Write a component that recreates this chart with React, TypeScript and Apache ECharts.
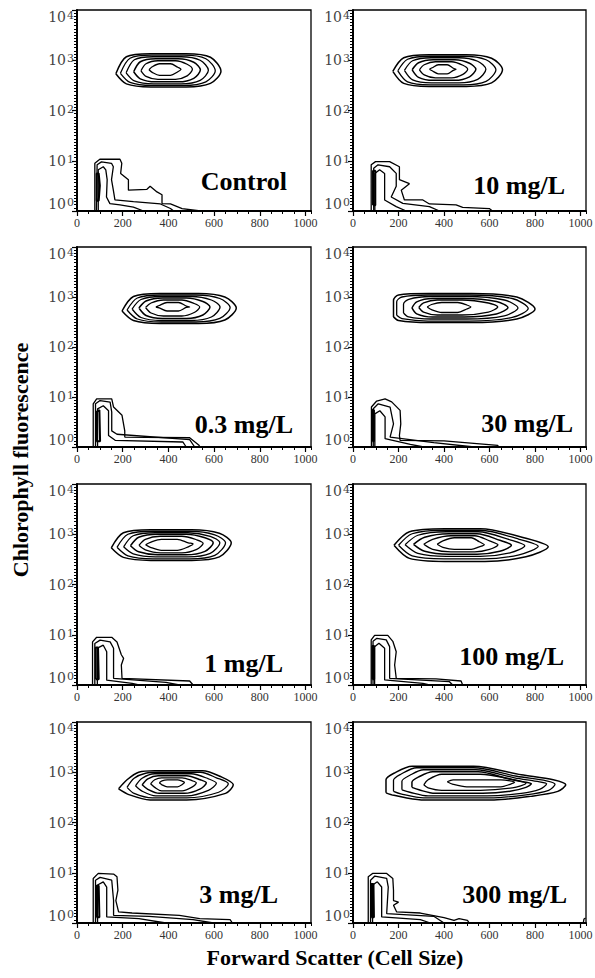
import React, { useEffect, useRef } from "react";
import * as echarts from "echarts";

// ---------- data (x: forward scatter channel, y: chlorophyll fluorescence) ----------
const panelNames = ["Control", "10 mg/L", "0.3 mg/L", "30 mg/L", "1 mg/L", "100 mg/L", "3 mg/L", "300 mg/L"];
const xTickValues = [0, 200, 400, 600, 800, 1000];
const yDecades = [1, 10, 100, 1000, 10000];
const yExponents = ["0", "1", "2", "3", "4"];

const controlRings = [
  [[170, 537], [216, 1175], [322, 1349], [478, 1349], [584, 1148], [630, 603], [584, 347], [478, 295], [322, 295], [216, 339]],
  [[190, 550], [232, 1096], [327, 1259], [468, 1259], [564, 1072], [605, 617], [564, 372], [468, 316], [327, 316], [232, 363]],
  [[215, 562], [251, 1023], [334, 1175], [456, 1175], [539, 1000], [575, 631], [539, 398], [456, 339], [334, 339], [251, 389]],
  [[248, 589], [277, 933], [344, 1072], [444, 1072], [511, 912], [540, 646], [511, 437], [444, 372], [344, 372], [277, 427]],
  [[280, 617], [302, 851], [354, 977], [431, 977], [482, 832], [505, 661], [482, 490], [431, 417], [354, 417], [302, 479]],
  [[315, 646], [329, 741], [361, 851], [409, 851], [441, 724], [455, 661], [441, 589], [409, 501], [361, 501], [329, 575]],
];
const controlLow = [
  [[78, 1], [78, 8.9], [100, 10.7], [188, 10.7], [196, 8.9], [191, 5.6], [225, 4.2], [225, 2.6], [306, 2.7], [320, 3.1], [350, 2.4], [372, 2.1], [372, 1.4], [409, 1.38], [460, 1.12], [541, 1]],
  [[85, 1], [88, 8.3], [107, 9.5], [151, 8.9], [159, 7.6], [151, 4.2], [159, 2.6], [166, 1.66], [247, 1.53], [365, 1.38], [409, 1.12], [423, 1]],
  [[93, 1], [93, 6.6], [115, 7.6], [126, 6.6], [132, 4.2], [129, 1.9], [144, 1.4], [188, 1.32], [247, 1.2], [291, 1]],
  [[86, 1.6], [86, 5.6], [95, 5.6], [100, 3.2], [95, 1.6], [86, 1.6]],
];

const mg10Rings = [
  [[175, 603], [223, 1122], [334, 1288], [498, 1288], [609, 1096], [657, 646], [609, 355], [498, 302], [334, 302], [223, 347]],
  [[197, 617], [240, 1047], [339, 1202], [486, 1202], [585, 1023], [628, 646], [585, 380], [486, 324], [339, 324], [240, 372]],
  [[226, 631], [262, 977], [344, 1122], [466, 1122], [548, 955], [584, 661], [548, 417], [466, 355], [344, 355], [262, 407]],
  [[260, 646], [288, 891], [352, 1023], [448, 1023], [512, 871], [540, 661], [512, 468], [448, 398], [352, 398], [288, 457]],
  [[292, 646], [313, 813], [362, 933], [434, 933], [483, 794], [504, 661], [483, 525], [434, 447], [362, 447], [313, 513]],
  [[336, 661], [348, 708], [375, 813], [414, 813], [441, 692], [453, 661], [441, 631], [414, 537], [375, 537], [348, 617]],
];
const mg10Low = [
  [[80, 1], [80, 8.3], [99, 9.6], [161, 9.6], [204, 7.6], [204, 4.2], [248, 3.5], [212, 2.6], [226, 1.66], [307, 1.66], [336, 1.38], [453, 1.32], [482, 1.18], [599, 1.12], [613, 1]],
  [[91, 1], [91, 7.1], [110, 8.3], [161, 7.6], [190, 5.6], [190, 3.1], [168, 1.9], [219, 1.42], [336, 1.22], [380, 1]],
  [[96, 1], [96, 5.6], [117, 6.6], [139, 5.6], [139, 1.66], [190, 1.22], [234, 1]],
  [[88, 1.3], [88, 6.3], [98, 6.3], [98, 1.3], [88, 1.3]],
];

const mg03Rings = [
  [[197, 525], [247, 1023], [362, 1175], [532, 1175], [647, 1000], [697, 603], [647, 347], [532, 295], [362, 295], [247, 339]],
  [[219, 550], [264, 955], [368, 1096], [521, 1096], [625, 933], [670, 617], [625, 372], [521, 316], [368, 316], [264, 363]],
  [[241, 575], [280, 891], [368, 1023], [499, 1023], [588, 871], [626, 631], [588, 398], [499, 339], [368, 339], [280, 389]],
  [[271, 603], [302, 832], [374, 955], [479, 955], [551, 813], [582, 631], [551, 437], [479, 372], [374, 372], [302, 427]],
  [[300, 617], [324, 759], [378, 871], [459, 871], [513, 741], [537, 631], [513, 490], [459, 417], [378, 417], [324, 479]],
  [[345, 631], [360, 676], [394, 776], [444, 776], [478, 661], [493, 631], [478, 617], [444, 525], [394, 525], [360, 603]],
];
const mg03Low = [
  [[71, 1], [71, 7.3], [86, 9.2], [152, 9.2], [160, 6.3], [197, 4.3], [209, 2.1], [209, 1.58], [493, 1.53], [534, 1.08], [537, 1]],
  [[81, 1], [81, 7.3], [101, 8.5], [145, 7.9], [152, 5], [152, 2.1], [175, 1.8], [493, 1.4], [515, 1]],
  [[90, 1], [90, 5.8], [115, 6.7], [138, 5.3], [138, 1.7], [167, 1.36], [463, 1.26], [478, 1]],
  [[84, 1.3], [84, 5], [98, 5.5], [101, 1.3], [84, 1.3]],
];

const mg30Rings = [
  [[178, 400], [178, 850], [200, 1100], [333, 1175], [520, 1175], [720, 1000], [800, 575], [720, 363], [520, 309], [333, 309], [200, 339]],
  [[192, 430], [192, 800], [215, 1000], [330, 1096], [510, 1096], [700, 933], [770, 589], [700, 390], [510, 330], [330, 330], [215, 370]],
  [[222, 480], [222, 720], [245, 900], [340, 1023], [500, 1023], [665, 871], [725, 603], [665, 420], [500, 363], [340, 363], [245, 400]],
  [[259, 603], [280, 800], [350, 933], [490, 933], [630, 813], [681, 617], [630, 457], [490, 398], [350, 398], [280, 460]],
  [[289, 617], [310, 760], [370, 871], [480, 871], [595, 759], [636, 631], [595, 500], [480, 437], [370, 437], [310, 500]],
  [[326, 631], [345, 708], [390, 776], [460, 776], [500, 692], [518, 631], [500, 575], [460, 490], [390, 490], [345, 560]],
];
const mg30Low = [
  [[81, 1], [81, 6.3], [104, 8.3], [141, 9.2], [170, 8.0], [207, 5.4], [210, 2.9], [204, 1.7], [207, 1.36], [400, 1.32], [636, 1.08], [639, 1]],
  [[89, 1], [89, 5.8], [111, 7.3], [163, 6.3], [178, 2.9], [163, 1.58], [355, 1.22], [533, 1]],
  [[96, 1], [96, 4.6], [118, 5.3], [141, 4.0], [141, 1.47], [252, 1.13], [311, 1]],
  [[85, 1.3], [85, 5.5], [92, 5.5], [92, 1.3], [85, 1.3]],
];

const mg1Rings = [
  [[150, 537], [203, 1072], [323, 1230], [502, 1230], [623, 1047], [675, 676], [623, 355], [502, 302], [323, 302], [203, 347]],
  [[175, 550], [223, 1000], [332, 1148], [493, 1148], [603, 977], [650, 676], [603, 380], [493, 324], [332, 324], [223, 372]],
  [[204, 562], [246, 933], [343, 1072], [486, 1072], [583, 912], [625, 676], [583, 417], [486, 355], [343, 355], [246, 407]],
  [[234, 589], [270, 871], [353, 1000], [477, 1000], [560, 851], [596, 676], [560, 457], [477, 389], [353, 389], [270, 447]],
  [[271, 603], [299, 794], [364, 912], [459, 912], [524, 776], [552, 661], [524, 501], [459, 427], [364, 427], [299, 490]],
  [[300, 617], [321, 692], [369, 794], [439, 794], [487, 676], [508, 646], [487, 562], [439, 479], [369, 479], [321, 550]],
];
const mg1Low = [
  [[68, 1], [68, 7.2], [86, 8.9], [152, 8.9], [175, 7.2], [194, 4.0], [204, 3.4], [194, 2.5], [197, 1.36], [493, 1.2], [508, 1]],
  [[78, 1], [78, 6.7], [101, 7.8], [145, 7.2], [160, 5.4], [160, 1.36], [389, 1.13], [448, 1]],
  [[89, 1], [89, 5.4], [115, 6.2], [130, 4.6], [130, 1.25], [241, 1.08], [271, 1]],
  [[82, 1.3], [82, 5.6], [92, 5.6], [95, 1.3], [82, 1.3]],
];

const mg100Rings = [
  [[180, 603], [248, 1122], [404, 1288], [560, 1288], [760, 832], [858, 562], [760, 355], [580, 288], [404, 288], [248, 331]],
  [[200, 603], [260, 1023], [400, 1202], [560, 1202], [730, 794], [814, 575], [730, 389], [570, 324], [400, 324], [260, 372]],
  [[229, 617], [285, 955], [410, 1122], [550, 1122], [690, 776], [755, 589], [690, 427], [560, 363], [410, 363], [285, 417]],
  [[266, 631], [315, 871], [420, 1023], [545, 1023], [645, 759], [696, 603], [645, 457], [545, 398], [420, 398], [315, 457]],
  [[311, 631], [350, 794], [430, 933], [535, 933], [600, 741], [637, 617], [600, 501], [535, 447], [430, 447], [350, 501]],
  [[370, 631], [395, 741], [445, 851], [520, 851], [555, 708], [577, 617], [555, 562], [520, 501], [445, 501], [395, 550]],
];
const mg100Low = [
  [[80, 1], [80, 7.9], [95, 9.7], [153, 9.7], [175, 7.4], [190, 4.6], [183, 2.5], [190, 1.36], [365, 1.32], [475, 1.2], [482, 1]],
  [[88, 1], [88, 7.4], [105, 8.5], [146, 7.9], [161, 5.8], [161, 1.36], [423, 1.17], [438, 1]],
  [[95, 1], [95, 5.8], [114, 6.8], [139, 5.4], [139, 1.26], [307, 1.08], [336, 1]],
  [[85, 1.3], [85, 6], [93, 6], [93, 1.3], [85, 1.3]],
];

const mg3Rings = [
  [[182, 468], [219, 708], [270, 1000], [340, 1072], [550, 1072], [625, 832], [684, 562], [650, 380], [480, 282], [320, 282], [230, 355]],
  [[219, 501], [250, 760], [300, 955], [360, 1000], [540, 1000], [610, 776], [662, 589], [620, 400], [480, 309], [330, 309], [250, 380]],
  [[256, 537], [285, 759], [340, 933], [500, 933], [575, 741], [610, 603], [575, 437], [480, 339], [345, 339], [285, 420]],
  [[285, 562], [310, 741], [355, 851], [480, 851], [540, 708], [566, 617], [540, 468], [470, 380], [360, 380], [310, 457]],
  [[322, 589], [340, 708], [370, 776], [460, 776], [505, 676], [522, 617], [505, 513], [460, 427], [370, 427], [340, 501]],
  [[360, 617], [372, 676], [395, 708], [440, 708], [462, 661], [470, 631], [462, 575], [440, 513], [395, 513], [372, 562]],
];
const mg3Low = [
  [[71, 1], [71, 7.7], [93, 9.7], [160, 9.4], [175, 8.3], [179, 4.5], [170, 2.8], [182, 1.66], [241, 1.58], [448, 1.42], [537, 1.22], [670, 1.17], [680, 1]],
  [[81, 1], [81, 7.1], [101, 8.1], [152, 7.1], [160, 2.8], [160, 1.42], [315, 1.36], [508, 1.17], [597, 1]],
  [[90, 1], [90, 5.7], [115, 6.6], [130, 5.2], [130, 1.32], [271, 1.22], [389, 1]],
  [[85, 1.3], [85, 5.5], [95, 5.5], [98, 1.3], [85, 1.3]],
];

const mg300Rings = [
  [[145, 389], [145, 708], [180, 955], [260, 1318], [530, 1318], [740, 891], [880, 708], [935, 562], [900, 417], [780, 331], [620, 282], [300, 282], [180, 347]],
  [[178, 417], [178, 692], [210, 912], [280, 1230], [530, 1230], [720, 832], [850, 676], [888, 575], [860, 437], [760, 355], [600, 309], [310, 309], [210, 372]],
  [[215, 447], [215, 661], [250, 871], [310, 1122], [540, 1122], [710, 776], [820, 646], [851, 589], [820, 457], [740, 380], [590, 339], [330, 339], [250, 400]],
  [[259, 501], [259, 631], [290, 813], [350, 1023], [550, 1023], [690, 724], [760, 631], [784, 589], [760, 501], [690, 417], [570, 380], [360, 380], [290, 447]],
  [[311, 562], [330, 708], [390, 912], [560, 912], [700, 724], [760, 603], [700, 490], [560, 437], [390, 437], [330, 490]],
  [[414, 646], [440, 708], [500, 708], [650, 708], [690, 676], [710, 631], [690, 575], [650, 513], [500, 513], [440, 575]],
];
const mg300Low = [
  [[67, 1], [67, 8.3], [86, 9.7], [148, 9.7], [175, 7.7], [178, 4.5], [178, 2.8], [200, 2.6], [178, 2.25], [192, 1.66], [296, 1.58], [400, 1.28], [444, 1.13], [466, 1.22], [503, 1.13], [511, 1]],
  [[77, 1], [77, 7.1], [96, 8.6], [148, 7.7], [155, 5.2], [148, 1.54], [355, 1.36], [400, 1]],
  [[86, 1], [86, 5.7], [107, 6.6], [126, 5.2], [126, 1.32], [296, 1.17], [340, 1]],
  [[80, 1.3], [80, 6], [90, 6], [92, 1.3], [80, 1.3]],
  [[1012, 1], [1015, 1.2], [1022, 1.25]],
];

const panelRings = [controlRings, mg10Rings, mg03Rings, mg30Rings, mg1Rings, mg100Rings, mg3Rings, mg300Rings];
const panelLows = [controlLow, mg10Low, mg03Low, mg30Low, mg1Low, mg100Low, mg3Low, mg300Low];

// ---------- layout ----------
const colLeft = [77, 353];
const colWidth = [234, 233];
const rowTop = [10, 247, 484, 722];
const rowHeight = [201, 200, 201, 201];
const labelPos = [[287, 181], [565, 185], [293, 424], [573, 423], [283, 663], [564, 656], [278, 894], [567, 894]];
const SERIF = '"Liberation Serif", "Times New Roman", Times, serif';
const WIDE_SERIF = '"DejaVu Serif", "Liberation Serif", serif';

function buildOption() {
  const grid: any[] = [];
  const xAxis: any[] = [];
  const yAxis: any[] = [];
  const series: any[] = [];
  const graphic: any[] = [];

  panelNames.forEach((name, i) => {
    const r = Math.floor(i / 2);
    const c = i % 2;
    grid.push({
      left: colLeft[c], top: rowTop[r], width: colWidth[c], height: rowHeight[r],
      show: true, borderColor: "#000", borderWidth: 1.3, backgroundColor: "transparent",
      containLabel: false, outerBoundsMode: "none",
    });
    xAxis.push({
      gridIndex: i, type: "value", min: 0, max: 1024, interval: 200, position: "bottom",
      axisLine: { show: true, onZero: false, lineStyle: { color: "#000", width: 2 } },
      axisTick: { show: true, length: 5, lineStyle: { color: "#000", width: 1.2 } },
      axisLabel: {
        show: true, showMaxLabel: false, margin: 6, fontSize: 12, color: "#333", fontFamily: SERIF,
        formatter: (v: number) => (xTickValues.indexOf(v) >= 0 ? String(v) : ""),
      },
      splitLine: { show: false },
    });
    xAxis.push({
      gridIndex: i, type: "value", min: 0, max: 1024, interval: 50, position: "bottom",
      axisLine: { show: false, onZero: false },
      axisTick: { show: true, length: 3, lineStyle: { color: "#000", width: 1 } },
      axisLabel: { show: false }, splitLine: { show: false },
    });
    yAxis.push({
      gridIndex: i, type: "log", logBase: 10, min: 1, max: 10000, position: "left",
      axisLine: { show: true, onZero: false, lineStyle: { color: "#000", width: 2 } },
      axisTick: { show: true, length: 5, lineStyle: { color: "#000", width: 1.2 } },
      axisLabel: {
        show: true, margin: 3, color: "#444", fontFamily: WIDE_SERIF, fontSize: 14,
        verticalAlignMinLabel: "bottom", verticalAlignMaxLabel: "top",
        formatter: (v: number) => {
          const k = yDecades.findIndex((d) => Math.abs(d - v) / d < 1e-6);
          return k >= 0 ? `{b|10}{s|${yExponents[k]}}` : "";
        },
        rich: {
          b: { fontSize: 14, fontFamily: WIDE_SERIF, color: "#444" },
          s: { fontSize: 11, fontFamily: WIDE_SERIF, color: "#444", verticalAlign: "top", padding: [0, 0, 0, 1] },
        },
      },
      splitLine: { show: false },
    });
    yAxis.push({
      gridIndex: i, type: "value", min: 0, max: 4, interval: 0.0625, position: "left",
      axisLine: { show: false, onZero: false },
      axisTick: { show: true, length: 3, lineStyle: { color: "#000", width: 1 } },
      axisLabel: { show: false }, splitLine: { show: false },
    });

    panelRings[i].forEach((ring, k) => {
      series.push({
        type: "line", xAxisIndex: 2 * i, yAxisIndex: 2 * i,
        data: [...ring, ring[0]], symbol: "none", smooth: 0.3, silent: true,
        lineStyle: { color: "#000", width: k === 0 || k === 3 ? 1.5 : 1.3 }, z: 3,
      });
    });
    panelLows[i].forEach((cont, k) => {
      series.push({
        type: "line", xAxisIndex: 2 * i, yAxisIndex: 2 * i,
        data: cont, symbol: "none", smooth: false, silent: true,
        lineStyle: { color: "#000", width: k === 3 ? 2 : 1.3 }, z: 3,
      });
    });

    graphic.push({
      type: "text", x: labelPos[i][0], y: labelPos[i][1], z: 10,
      style: {
        text: name, font: `bold 26px ${SERIF}`, fill: "#000",
        align: "right", textAlign: "right", verticalAlign: "middle", textVerticalAlign: "middle",
      },
    });
  });

  graphic.push({
    type: "text", x: 20, y: 460, rotation: Math.PI / 2, z: 10,
    style: {
      text: "Chlorophyll fluorescence", font: `bold 22px ${SERIF}`, fill: "#000",
      align: "center", textAlign: "center", verticalAlign: "middle", textVerticalAlign: "middle",
    },
  });
  graphic.push({
    type: "text", x: 335, y: 957, z: 10,
    style: {
      text: "Forward Scatter (Cell Size)", font: `bold 22px ${SERIF}`, fill: "#000",
      align: "center", textAlign: "center", verticalAlign: "middle", textVerticalAlign: "middle",
    },
  });

  return {
    animation: false,
    backgroundColor: "#fff",
    grid, xAxis, yAxis, series, graphic,
  };
}

export default function App() {
  const ref = useRef<HTMLDivElement>(null);
  useEffect(() => {
    if (!ref.current) return;
    const chart = echarts.init(ref.current, null, { renderer: "svg" });
    chart.setOption(buildOption() as any);
    return () => chart.dispose();
  }, []);
  return (
    <div
      ref={ref}
      style={{ position: "absolute", left: 0, top: 0, width: 595, height: 978, background: "#fff" }}
    />
  );
}
